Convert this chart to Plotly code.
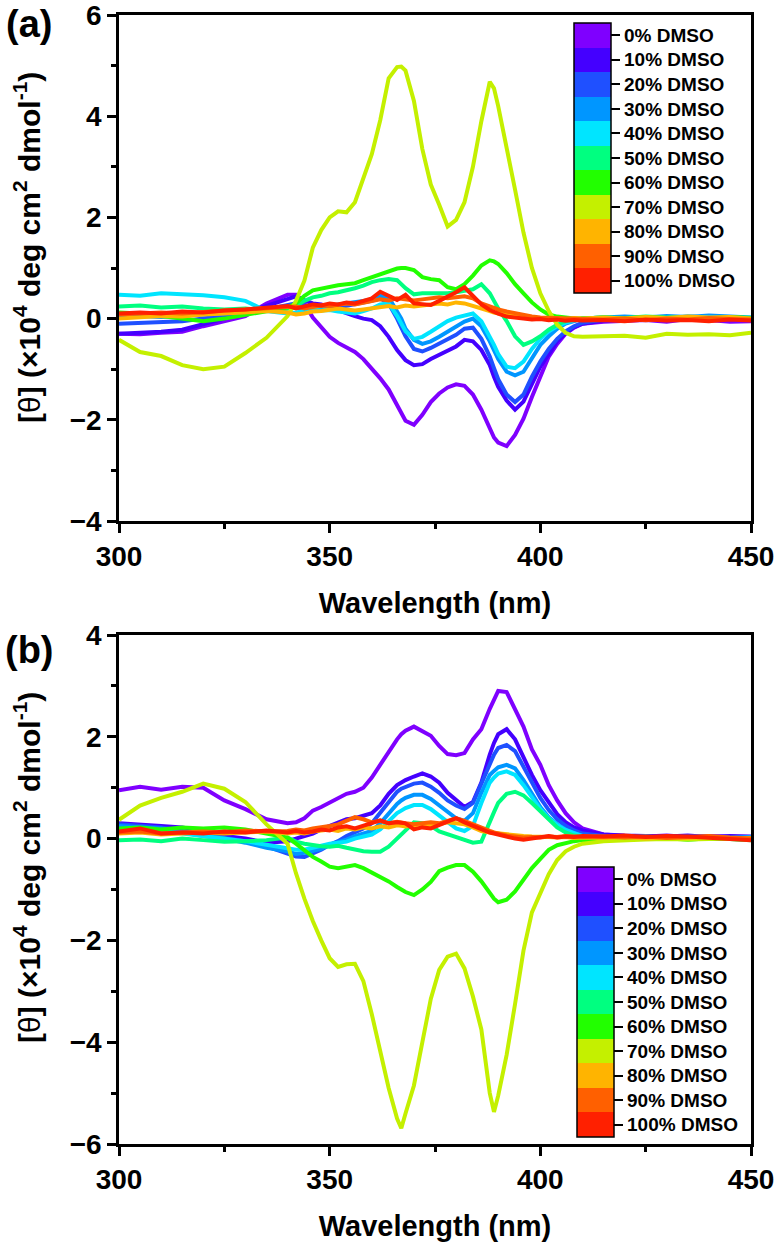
import plotly.graph_objects as go

# wavelength grid (nm) shared by all spectra
wl = ([300, 305, 310, 315, 320, 325, 330, 335]
      + list(range(340, 367, 2)) + [367] + list(range(368, 389, 2)) + [389]
      + list(range(390, 411, 2)) + [415, 420, 425, 430, 435, 440, 445, 450])

labels = ['0% DMSO', '10% DMSO', '20% DMSO', '30% DMSO', '40% DMSO', '50% DMSO',
          '60% DMSO', '70% DMSO', '80% DMSO', '90% DMSO', '100% DMSO']
colors = ['#7F00FF', '#4400FF', '#1F50FF', '#0096FF', '#00E5FF', '#00FF80',
          '#22FF00', '#C4F000', '#FFB400', '#FF6000', '#FF2000']

# ---- panel (a) ----
a_0 = [-0.30, -0.31, -0.28, -0.26, -0.15, -0.05, 0.05, 0.30,
       0.47, 0.47, 0.30, 0.02, -0.18, -0.36, -0.48, -0.58, -0.66, -0.80, -0.98, -1.18, -1.40, -1.72,
       -1.88, -2.02, -2.10, -1.90, -1.65, -1.48, -1.36, -1.30, -1.33, -1.50, -1.80, -2.20, -2.35, -2.45, -2.52, -2.30,
       -1.98, -1.55, -1.15, -0.75, -0.50, -0.30, -0.18, -0.10,
       -0.06, -0.04, -0.03, -0.06, -0.01, -0.03, -0.06, -0.05]
a_10 = [-0.30, -0.28, -0.26, -0.22, -0.12, 0.00, 0.12, 0.26,
        0.40, 0.44, 0.36, 0.30, 0.28, 0.22, 0.15, 0.10, 0.05, 0.00, -0.03, -0.15, -0.36, -0.62,
        -0.72, -0.82, -0.92, -0.90, -0.80, -0.72, -0.62, -0.55, -0.42, -0.45, -0.62, -0.92, -1.15, -1.35, -1.62, -1.80,
        -1.64, -1.30, -0.95, -0.70, -0.45, -0.28, -0.17, -0.10,
        -0.04, -0.02, 0.01, -0.02, 0.03, 0.00, -0.02, -0.03]
a_20 = [-0.10, -0.08, -0.06, -0.05, 0.00, 0.05, 0.10, 0.18,
        0.28, 0.30, 0.26, 0.22, 0.24, 0.25, 0.22, 0.25, 0.28, 0.30, 0.35, 0.40, 0.30, 0.00,
        -0.18, -0.35, -0.60, -0.65, -0.58, -0.50, -0.42, -0.32, -0.20, -0.18, -0.40, -0.75, -0.98, -1.20, -1.50, -1.65,
        -1.50, -1.15, -0.85, -0.60, -0.40, -0.25, -0.15, -0.08,
        -0.02, 0.00, 0.03, 0.00, 0.04, 0.02, 0.00, -0.02]
a_30 = [0.02, 0.05, 0.03, 0.06, 0.08, 0.10, 0.12, 0.15,
        0.20, 0.22, 0.18, 0.20, 0.22, 0.25, 0.28, 0.30, 0.32, 0.35, 0.38, 0.45, 0.42, 0.15,
        0.00, -0.20, -0.42, -0.50, -0.45, -0.36, -0.26, -0.16, -0.06, 0.00, -0.15, -0.45, -0.62, -0.80, -1.05, -1.12,
        -1.05, -0.78, -0.52, -0.35, -0.20, -0.10, -0.05, 0.00,
        0.02, 0.04, 0.02, 0.05, 0.03, 0.06, 0.04, 0.02]
a_40 = [0.47, 0.45, 0.50, 0.48, 0.46, 0.42, 0.35, 0.15,
        0.10, 0.12, 0.15, 0.18, 0.16, 0.17, 0.14, 0.12, 0.10, 0.15, 0.20, 0.28, 0.30, 0.05,
        -0.10, -0.25, -0.40, -0.36, -0.26, -0.15, -0.05, 0.02, 0.06, 0.10, -0.05, -0.35, -0.52, -0.70, -0.95, -0.98,
        -0.85, -0.60, -0.40, -0.25, -0.15, -0.08, -0.03, 0.00,
        0.02, 0.00, 0.03, 0.01, 0.04, 0.02, 0.00, 0.02]
a_50 = [0.24, 0.26, 0.22, 0.24, 0.20, 0.18, 0.20, 0.16,
        0.20, 0.25, 0.35, 0.42, 0.45, 0.50, 0.52, 0.55, 0.60, 0.65, 0.72, 0.76, 0.78, 0.76,
        0.68, 0.60, 0.48, 0.50, 0.50, 0.50, 0.50, 0.52, 0.55, 0.58, 0.68, 0.50, 0.35, 0.20, -0.05, -0.35,
        -0.52, -0.45, -0.35, -0.22, -0.12, -0.05, -0.02, 0.00,
        0.02, 0.01, 0.04, 0.02, 0.03, 0.00, 0.02, 0.01]
a_60 = [0.12, 0.10, 0.05, 0.00, -0.05, 0.00, 0.08, 0.15,
        0.22, 0.30, 0.45, 0.56, 0.60, 0.63, 0.66, 0.68, 0.70, 0.76, 0.82, 0.88, 0.95, 0.99,
        1.00, 1.00, 0.96, 0.82, 0.78, 0.76, 0.62, 0.58, 0.68, 0.85, 1.05, 1.15, 1.13, 1.08, 0.90, 0.68,
        0.50, 0.32, 0.18, 0.08, 0.04, 0.02, 0.00, 0.00,
        0.02, 0.00, 0.03, 0.01, 0.02, 0.00, 0.03, 0.01]
a_70 = [-0.42, -0.66, -0.74, -0.92, -1.00, -0.95, -0.68, -0.38,
        0.05, 0.35, 0.75, 1.40, 1.75, 2.00, 2.12, 2.10, 2.30, 2.75, 3.25, 3.92, 4.75, 4.97,
        4.98, 4.90, 4.30, 3.35, 2.65, 2.25, 1.82, 1.95, 2.30, 3.00, 3.90, 4.68, 4.55, 4.20, 3.40, 2.55,
        1.70, 1.00, 0.50, 0.15, -0.12, -0.28, -0.35, -0.36,
        -0.35, -0.34, -0.38, -0.30, -0.32, -0.31, -0.33, -0.28]
a_80 = [0.00, 0.02, 0.05, 0.04, 0.08, 0.10, 0.12, 0.15,
        0.12, 0.08, 0.10, 0.14, 0.15, 0.18, 0.20, 0.18, 0.16, 0.18, 0.20, 0.22, 0.25, 0.22,
        0.24, 0.26, 0.24, 0.26, 0.28, 0.30, 0.28, 0.32, 0.30, 0.25, 0.22, 0.15, 0.12, 0.10, 0.06, 0.04,
        0.02, 0.02, 0.00, 0.01, 0.00, -0.01, 0.01, 0.00,
        0.02, 0.00, 0.03, 0.01, 0.04, 0.02, 0.03, 0.00]
a_90 = [0.08, 0.10, 0.12, 0.10, 0.14, 0.16, 0.18, 0.20,
        0.22, 0.24, 0.20, 0.24, 0.26, 0.25, 0.28, 0.30, 0.28, 0.32, 0.35, 0.38, 0.36, 0.40,
        0.39, 0.38, 0.36, 0.38, 0.40, 0.42, 0.40, 0.42, 0.44, 0.40, 0.30, 0.24, 0.20, 0.18, 0.14, 0.10,
        0.07, 0.04, 0.02, 0.01, 0.00, -0.01, -0.02, -0.01,
        -0.02, 0.00, -0.03, 0.00, -0.02, 0.01, -0.01, -0.02]
a_100 = [0.10, 0.12, 0.10, 0.14, 0.12, 0.16, 0.18, 0.22,
         0.25, 0.20, 0.24, 0.28, 0.26, 0.30, 0.28, 0.32, 0.30, 0.35, 0.40, 0.53, 0.45, 0.37,
         0.42, 0.47, 0.30, 0.28, 0.27, 0.35, 0.43, 0.52, 0.62, 0.45, 0.28, 0.17, 0.13, 0.10, 0.04, 0.02,
         0.00, -0.02, -0.01, -0.03, -0.02, -0.04, -0.03, -0.04,
         -0.03, -0.05, -0.02, -0.04, -0.03, -0.05, -0.02, -0.04]

# ---- panel (b) ----
b_0 = [0.95, 1.02, 0.96, 1.02, 1.00, 0.75, 0.58, 0.38,
       0.30, 0.32, 0.40, 0.55, 0.62, 0.70, 0.78, 0.88, 0.92, 1.00, 1.20, 1.45, 1.72, 1.95,
       2.05, 2.12, 2.20, 2.12, 2.02, 1.82, 1.66, 1.64, 1.68, 1.95, 2.15, 2.55, 2.72, 2.90, 2.88, 2.55,
       2.20, 1.75, 1.45, 1.05, 0.75, 0.50, 0.32, 0.20,
       0.08, 0.05, 0.04, 0.06, 0.03, 0.05, 0.03, 0.02]
b_10 = [0.30, 0.28, 0.25, 0.22, 0.15, 0.05, 0.00, -0.08,
        -0.05, 0.00, 0.05, 0.10, 0.18, 0.25, 0.32, 0.38, 0.40, 0.45, 0.50, 0.65, 0.88, 1.05,
        1.10, 1.15, 1.22, 1.28, 1.22, 1.10, 0.90, 0.76, 0.62, 0.72, 1.10, 1.65, 1.88, 2.05, 2.15, 1.95,
        1.60, 1.25, 0.95, 0.70, 0.48, 0.32, 0.22, 0.16,
        0.08, 0.06, 0.05, 0.04, 0.06, 0.03, 0.05, 0.04]
b_20 = [0.28, 0.25, 0.22, 0.15, 0.08, 0.02, -0.05, -0.15,
        -0.28, -0.35, -0.36, -0.30, -0.22, -0.12, -0.05, 0.05, 0.12, 0.20, 0.30, 0.50, 0.72, 0.92,
        0.98, 1.02, 1.08, 1.10, 1.02, 0.90, 0.75, 0.65, 0.58, 0.70, 1.10, 1.50, 1.65, 1.78, 1.84, 1.72,
        1.42, 1.10, 0.80, 0.56, 0.38, 0.25, 0.16, 0.10,
        0.05, 0.03, 0.04, 0.02, 0.04, 0.03, 0.02, 0.03]
b_30 = [0.25, 0.22, 0.20, 0.12, 0.05, 0.00, -0.08, -0.18,
        -0.25, -0.30, -0.28, -0.24, -0.20, -0.12, -0.08, -0.02, 0.05, 0.10, 0.15, 0.30, 0.50, 0.68,
        0.75, 0.80, 0.86, 0.86, 0.78, 0.66, 0.52, 0.40, 0.35, 0.50, 0.90, 1.25, 1.33, 1.40, 1.45, 1.38,
        1.15, 0.88, 0.62, 0.42, 0.28, 0.18, 0.10, 0.06,
        0.03, 0.02, 0.04, 0.01, 0.03, 0.02, 0.01, 0.02]
b_40 = [0.18, 0.16, 0.14, 0.10, 0.05, 0.00, -0.05, -0.12,
        -0.18, -0.22, -0.22, -0.18, -0.14, -0.10, -0.08, -0.06, 0.00, 0.04, 0.08, 0.18, 0.35, 0.50,
        0.55, 0.60, 0.66, 0.66, 0.58, 0.45, 0.32, 0.20, 0.15, 0.25, 0.70, 1.10, 1.20, 1.28, 1.32, 1.25,
        1.05, 0.80, 0.58, 0.40, 0.27, 0.17, 0.10, 0.05,
        0.03, 0.01, 0.03, 0.00, 0.02, 0.03, 0.01, 0.02]
b_50 = [-0.03, -0.02, -0.05, 0.00, -0.03, -0.06, -0.05, -0.03,
        0.02, -0.06, -0.10, -0.13, -0.15, -0.16, -0.14, -0.18, -0.22, -0.25, -0.26, -0.26, -0.16, 0.00,
        0.08, 0.15, 0.32, 0.30, 0.25, 0.14, 0.08, 0.02, -0.03, -0.08, -0.06, 0.35, 0.52, 0.70, 0.88, 0.92,
        0.85, 0.70, 0.55, 0.38, 0.22, 0.12, 0.06, 0.03,
        0.00, 0.02, -0.01, 0.01, -0.02, 0.00, -0.01, -0.03]
b_60 = [0.20, 0.22, 0.18, 0.22, 0.20, 0.22, 0.18, 0.10,
        0.02, -0.10, -0.22, -0.36, -0.45, -0.55, -0.58, -0.55, -0.52, -0.58, -0.66, -0.75, -0.84, -0.95,
        -1.00, -1.05, -1.11, -1.00, -0.85, -0.64, -0.57, -0.52, -0.52, -0.65, -0.84, -1.08, -1.18, -1.25, -1.20, -1.04,
        -0.80, -0.58, -0.40, -0.22, -0.13, -0.08, -0.05, -0.03,
        -0.02, 0.00, -0.01, 0.00, -0.02, 0.00, -0.01, -0.02]
b_70 = [0.37, 0.65, 0.80, 0.92, 1.08, 0.98, 0.72, 0.28,
        -0.10, -0.68, -1.18, -1.62, -2.00, -2.35, -2.52, -2.47, -2.46, -2.80, -3.45, -4.15, -4.90, -5.50,
        -5.69, -5.40, -4.85, -4.00, -3.15, -2.58, -2.32, -2.26, -2.55, -3.10, -3.75, -5.00, -5.37, -5.05, -4.25, -3.25,
        -2.20, -1.45, -1.07, -0.70, -0.42, -0.25, -0.16, -0.10,
        -0.05, -0.03, -0.02, -0.01, -0.02, -0.01, 0.00, -0.02]
b_80 = [0.10, 0.12, 0.08, 0.10, 0.12, 0.10, 0.12, 0.14,
        0.10, 0.12, 0.10, 0.14, 0.16, 0.18, 0.15, 0.20, 0.18, 0.22, 0.20, 0.24, 0.22, 0.26,
        0.25, 0.24, 0.26, 0.28, 0.25, 0.28, 0.32, 0.30, 0.28, 0.22, 0.15, 0.12, 0.11, 0.10, 0.08, 0.06,
        0.05, 0.04, 0.04, 0.03, 0.02, 0.03, 0.01, 0.02,
        0.01, 0.03, 0.00, 0.02, 0.01, 0.03, 0.00, 0.01]
b_90 = [0.12, 0.14, 0.10, 0.12, 0.14, 0.12, 0.16, 0.14,
        0.15, 0.18, 0.16, 0.20, 0.22, 0.25, 0.28, 0.35, 0.42, 0.38, 0.32, 0.35, 0.30, 0.33,
        0.31, 0.30, 0.28, 0.30, 0.32, 0.30, 0.36, 0.40, 0.35, 0.28, 0.20, 0.15, 0.12, 0.10, 0.06, 0.04,
        0.02, 0.03, 0.02, 0.04, 0.03, 0.05, 0.04, 0.03,
        0.04, 0.02, 0.04, 0.01, 0.03, 0.05, 0.02, 0.00]
b_100 = [0.14, 0.20, 0.10, 0.12, 0.10, 0.14, 0.12, 0.16,
         0.12, 0.15, 0.12, 0.14, 0.18, 0.16, 0.22, 0.24, 0.20, 0.26, 0.30, 0.36, 0.30, 0.32,
         0.31, 0.30, 0.18, 0.22, 0.20, 0.27, 0.32, 0.40, 0.32, 0.25, 0.18, 0.12, 0.10, 0.08, 0.04, 0.00,
         -0.02, 0.00, 0.03, 0.05, 0.02, 0.04, 0.03, 0.05,
         0.04, 0.06, 0.03, 0.05, 0.04, 0.02, 0.00, -0.03]

panel_a = [a_0, a_10, a_20, a_30, a_40, a_50, a_60, a_70, a_80, a_90, a_100]
panel_b = [b_0, b_10, b_20, b_30, b_40, b_50, b_60, b_70, b_80, b_90, b_100]

FONT = 'Liberation Sans, Arial, sans-serif'
W, H = 778, 1247
M_L, M_R, M_T, M_B = 119, 27, 15, 103
pw = W - M_L - M_R
ph = H - M_T - M_B


def px(x):
    """page x pixel -> paper coordinate"""
    return (x - M_L) / pw


def py(y):
    """page y pixel -> paper coordinate"""
    return 1 - (y - M_T) / ph


fig = go.Figure()

for series, xa, ya in [(panel_a, 'x', 'y'), (panel_b, 'x2', 'y2')]:
    for vals, name, col in zip(series, labels, colors):
        fig.add_trace(go.Scatter(
            x=wl, y=vals, mode='lines', name=name,
            line=dict(color=col, width=4),
            xaxis=xa, yaxis=ya, showlegend=False
        ))

# discrete colour key, 0% on top
n = len(colors)
cs = []
for k, col in enumerate(colors[::-1]):
    cs.append([k / n, col])
    cs.append([(k + 1) / n, col])


def key_bar(xa, ya, x_left, y_top):
    return go.Scatter(
        x=[None], y=[None], mode='markers', xaxis=xa, yaxis=ya,
        hoverinfo='skip', showlegend=False,
        marker=dict(
            color=[0], colorscale=cs, cmin=-0.5, cmax=n - 0.5, showscale=True,
            colorbar=dict(
                x=px(x_left), xanchor='left', xpad=0,
                y=py(y_top), yanchor='top', ypad=0,
                len=270, lenmode='pixels', thickness=37,
                outlinewidth=1.5, outlinecolor='black',
                tickvals=list(range(n)), ticktext=labels[::-1],
                ticks='outside', ticklen=9, tickwidth=1.5, tickcolor='black',
                tickfont=dict(family=FONT, size=19, color='black', weight='bold')
            )
        )
    )


fig.add_trace(key_bar('x', 'y', 574, 23))
fig.add_trace(key_bar('x2', 'y2', 577, 867))

tickfont = dict(family=FONT, size=28, color='black', weight='bold')
titlefont = dict(family=FONT, size=29, color='black', weight='bold')

xcommon = dict(
    range=[300, 450], dtick=50, tick0=300, automargin=False, ticklabeloverflow='allow',
    ticks='outside', ticklen=9, tickwidth=2.5, tickcolor='black',
    minor=dict(ticks='outside', ticklen=5, tickwidth=2.5, dtick=25, tick0=300, tickcolor='black'),
    showline=True, linewidth=2.5, linecolor='black', mirror=True,
    showgrid=False, zeroline=False, tickfont=tickfont,
    title=dict(text='Wavelength (nm)', font=titlefont, standoff=22)
)
ycommon = dict(
    dtick=2, automargin=False, ticklabeloverflow='allow',
    ticks='outside', ticklen=9, tickwidth=2.5, tickcolor='black',
    minor=dict(ticks='outside', ticklen=5, tickwidth=2.5, dtick=1, tickcolor='black'),
    showline=True, linewidth=2.5, linecolor='black', mirror=True,
    showgrid=False, zeroline=False, tickfont=tickfont
)

fig.update_layout(
    width=W, height=H,
    margin=dict(l=M_L, r=M_R, t=M_T, b=M_B, autoexpand=False),
    paper_bgcolor='white', plot_bgcolor='white',
    showlegend=False,
    xaxis=dict(anchor='y', domain=[0, 1], **xcommon),
    yaxis=dict(anchor='x', domain=[py(521), 1], range=[-4, 6], tick0=-4, **ycommon),
    xaxis2=dict(anchor='y2', domain=[0, 1], **xcommon),
    yaxis2=dict(anchor='x2', domain=[0, py(635)], range=[-6, 4], tick0=-6, **ycommon),
)

ytitle = '[<span style="font-weight:normal">θ</span>] (×10<sup>4</sup> deg cm<sup>2</sup> dmol<sup>-1</sup>)'
for yc in [248, 868]:
    fig.add_annotation(
        text=ytitle, textangle=-90, showarrow=False,
        xref='paper', yref='paper', x=px(27), y=py(yc),
        xanchor='center', yanchor='middle',
        font=dict(family=FONT, size=30, color='black', weight='bold')
    )

for lab, yc in [('(a)', 24), ('(b)', 650)]:
    fig.add_annotation(
        text=lab, showarrow=False, xref='paper', yref='paper',
        x=px(29), y=py(yc), xanchor='center', yanchor='middle',
        font=dict(family=FONT, size=38, color='black', weight='bold')
    )

# drop the default 8px body margin so the figure sits at the page origin
fig.write_html("out.html", config={'displayModeBar': False},
               post_script="document.body.style.margin='0px';")
